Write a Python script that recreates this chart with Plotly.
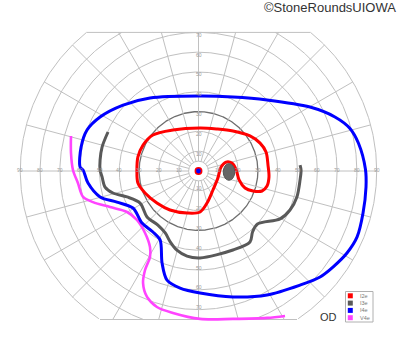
import numpy as np
import plotly.graph_objects as go

# ---- Data (degrees of visual field; x = horizontal, y = vertical) ----
iso_names = ["I2e", "I3e", "I4e", "V4e"]
iso_colors = ["#ff0000", "#595959", "#0000ff", "#ff44ff"]

i2e_x = [0.8, -12.9, -23.0, -28.0, -30.6, -31.1, -30.6, -27.0, -21.0, -14.4, -5.8, 0.8, 4.3, 7.3, 9.8, 11.4, 13.9,
         16.9, 18.9, 20.5, 23.5, 27.5, 32.1, 34.6, 35.6, 35.1, 34.1, 31.1, 26.0, 17.4, 9.3, 0.8]
i2e_y = [21.7, 20.7, 18.2, 13.1, 7.1, 0.5, -6.1, -11.1, -16.2, -19.7, -21.2, -20.7, -16.2, -9.6, -3.5, 2.0, 4.5,
         4.0, 1.0, -4.5, -8.6, -10.1, -10.1, -7.6, -3.0, 3.0, 9.6, 14.1, 17.7, 20.2, 21.2, 21.7]

i3e_x = [-45.7, -48.7, -49.7, -49.7, -48.7, -47.2, -43.2, -36.1, -29.5, -26.0, -20.5, -16.8, -14.2, -10.9, -5.8, 0.8,
         17.4, 26.0, 27.3, 29.8, 41.2, 46.2, 49.7, 51.3, 51.8, 51.3]
i3e_y = [19.7, 12.1, 5.6, 0.5, -3.0, -8.1, -11.1, -13.1, -16.2, -23.2, -27.3, -31.3, -35.9, -40.0, -43.0, -43.9,
         -39.9, -35.9, -30.8, -26.8, -24.2, -19.7, -13.1, -4.5, 0.5, 3.0]

i4e_x = [0.8, -24.5, -38.1, -49.7, -56.3, -59.3, -59.8, -58.3, -55.8, -49.7, -41.2, -33.1, -28.5, -23.0, -19.4,
         -18.4, -15.9, -9.3, 0.8, 17.4, 34.6, 51.3, 61.4, 67.9, 75.0, 80.1, 83.1, 84.6, 84.3, 80.8, 76.5,
         68.9, 56.3, 34.6, 17.4, 0.8]
i4e_y = [37.9, 36.9, 33.3, 27.3, 20.7, 12.1, 2.0, 0.5, -6.1, -13.1, -15.7, -18.7, -26.3, -30.8, -34.8,
         -46.5, -55.1, -59.1, -61.6, -63.6, -62.6, -57.6, -53.5, -48.5, -41.4, -33.3, -21.2, -8.1, 1.0, 14.0, 21.5,
         27.3, 32.3, 35.9, 37.4, 37.9]

v4e_x = [-64.4, -64.4, -63.4, -60.9, -58.3, -53.3, -44.7, -36.1, -31.1, -27.0, -24.5, -24.5, -27.0, -28.0, -26.0,
         -21.0, -12.9, 0.8, 17.4, 34.6, 43.7]
v4e_y = [17.7, 9.1, 0.5, -6.1, -13.1, -15.7, -18.2, -20.7, -24.7, -31.3, -38.4, -43.4, -50.0, -56.6, -63.6,
         -68.7, -71.7, -74.7, -74.7, -74.2, -73.2]

blind_spot = dict(x=15.4, y=-0.5, rx=2.9, ry=4.2)

ring_degrees = [5, 10, 20, 30, 40, 50, 60, 70, 80, 90]
h_tick_labels = [10, 20, 30, 40, 50, 60, 70, 80, 90]
v_tick_labels = [10, 20, 30, 40, 50, 60, 70]
spoke_step = 15
top_limit, bottom_limit, outer = 70, 75, 90

title_text = "©StoneRoundsUIOWA"
eye_text = "OD"

# ---- Figure geometry ----
W, H = 400, 352
cx, cy, s = 198.5, 171.0, 1.98
xr = [(0 - cx) / s, (W - cx) / s]
yr = [(cy - H) / s, cy / s]

fig = go.Figure()

grid_col = "#c0c0c0"

# Rings (clipped to the chart outline)
for r in ring_degrees:
    t = np.linspace(0, 2 * np.pi, 721)
    x = r * np.cos(t)
    y = r * np.sin(t)
    mask = (y <= top_limit + 1e-9) & (y >= -bottom_limit - 1e-9)
    xs, ys = [], []
    for xi, yi, m in zip(x, y, mask):
        if m:
            xs.append(xi); ys.append(yi)
        else:
            if xs and xs[-1] is not None:
                xs.append(None); ys.append(None)
    col = "#6e6e6e" if r == 30 else grid_col
    w = 1.3 if r == 30 else 1
    fig.add_trace(go.Scatter(x=xs, y=ys, mode="lines", line=dict(color=col, width=w),
                             hoverinfo="skip", showlegend=False))

# Top / bottom boundary lines
xt = np.sqrt(outer ** 2 - top_limit ** 2)
xb = np.sqrt(outer ** 2 - bottom_limit ** 2)
fig.add_trace(go.Scatter(x=[-xt, xt, None, -xb, xb], y=[top_limit, top_limit, None, -bottom_limit, -bottom_limit],
                         mode="lines", line=dict(color=grid_col, width=1), hoverinfo="skip", showlegend=False))

# Spokes
sx, sy = [], []
for a in range(0, 360, spoke_step):
    th = np.radians(a)
    c, sn = np.cos(th), np.sin(th)
    rend = outer
    if sn > 1e-9:
        rend = min(rend, top_limit / sn)
    elif sn < -1e-9:
        rend = min(rend, bottom_limit / -sn)
    sx += [5 * c, rend * c, None]
    sy += [5 * sn, rend * sn, None]
fig.add_trace(go.Scatter(x=sx, y=sy, mode="lines", line=dict(color=grid_col, width=1),
                         hoverinfo="skip", showlegend=False))

# Tick labels
lab_font = dict(size=5, color="#9a9a9a", family="Liberation Sans, Arial")
for v in h_tick_labels:
    for sign in (-1, 1):
        fig.add_annotation(x=sign * v, y=0.6, text=str(v), showarrow=False, font=lab_font,
                           xanchor="center", yanchor="middle")
for v in v_tick_labels:
    for sign in (-1, 1):
        fig.add_annotation(x=0.5, y=sign * v - 1.2 * sign, text=str(v), showarrow=False, font=lab_font,
                           xanchor="center", yanchor="middle")

# Isopters
series = [(v4e_x, v4e_y, 2.6, iso_colors[3]), (i4e_x, i4e_y, 3, iso_colors[2]),
          (i3e_x, i3e_y, 3, iso_colors[1]), (i2e_x, i2e_y, 3, iso_colors[0])]
for x, y, w, col in series:
    fig.add_trace(go.Scatter(x=x, y=y, mode="lines", line=dict(color=col, width=w, shape="spline", smoothing=0.9),
                             hoverinfo="skip", showlegend=False))

# Blind spot
bs = blind_spot
fig.add_shape(type="circle", xref="x", yref="y", x0=bs["x"] - bs["rx"], x1=bs["x"] + bs["rx"],
              y0=bs["y"] - bs["ry"], y1=bs["y"] + bs["ry"], fillcolor="#666666", line=dict(color="#555555", width=1))

# Fixation point
fig.add_shape(type="circle", xref="x", yref="y", x0=-2.0, x1=2.0, y0=-2.0, y1=2.0,
              fillcolor="#ff0000", line=dict(width=0))
fig.add_shape(type="circle", xref="x", yref="y", x0=-1.2, x1=1.2, y0=-1.2, y1=1.2,
              fillcolor="#0000ff", line=dict(width=0))

# Texts
fig.add_annotation(xref="paper", yref="paper", x=398 / W, y=1 - 8 / H, text=title_text, showarrow=False,
                   xanchor="right", yanchor="middle", font=dict(size=13, color="#333333", family="Liberation Sans, Arial"))
fig.add_annotation(xref="paper", yref="paper", x=328 / W, y=1 - 317 / H, text=eye_text, showarrow=False,
                   xanchor="center", yanchor="middle", font=dict(size=11, color="#333333", family="Liberation Sans, Arial"))

# Legend box (manual)
def px(xp):
    return xp / W
def py(yp):
    return 1 - yp / H

fig.add_shape(type="rect", xref="paper", yref="paper", x0=px(345.5), x1=px(373), y0=py(322), y1=py(291.5),
              fillcolor="white", line=dict(color="#b0b0b0", width=1))
for i, (nm, col) in enumerate(zip(iso_names, iso_colors)):
    yc = 295.8 + i * 7.3
    fig.add_shape(type="rect", xref="paper", yref="paper", x0=px(347.8), x1=px(352.8),
                  y0=py(yc + 2.5), y1=py(yc - 2.5), fillcolor=col, line=dict(width=0))
    fig.add_annotation(xref="paper", yref="paper", x=px(358), y=py(yc), text=nm, showarrow=False,
                       xanchor="left", yanchor="middle", font=dict(size=5.5, color="#777777", family="Liberation Sans, Arial"))

fig.update_layout(width=W, height=H, margin=dict(l=0, r=0, t=0, b=0),
                  paper_bgcolor="white", plot_bgcolor="white",
                  xaxis=dict(range=xr, visible=False, fixedrange=True),
                  yaxis=dict(range=yr, visible=False, fixedrange=True),
                  showlegend=False)

fig.write_html("out.html")
